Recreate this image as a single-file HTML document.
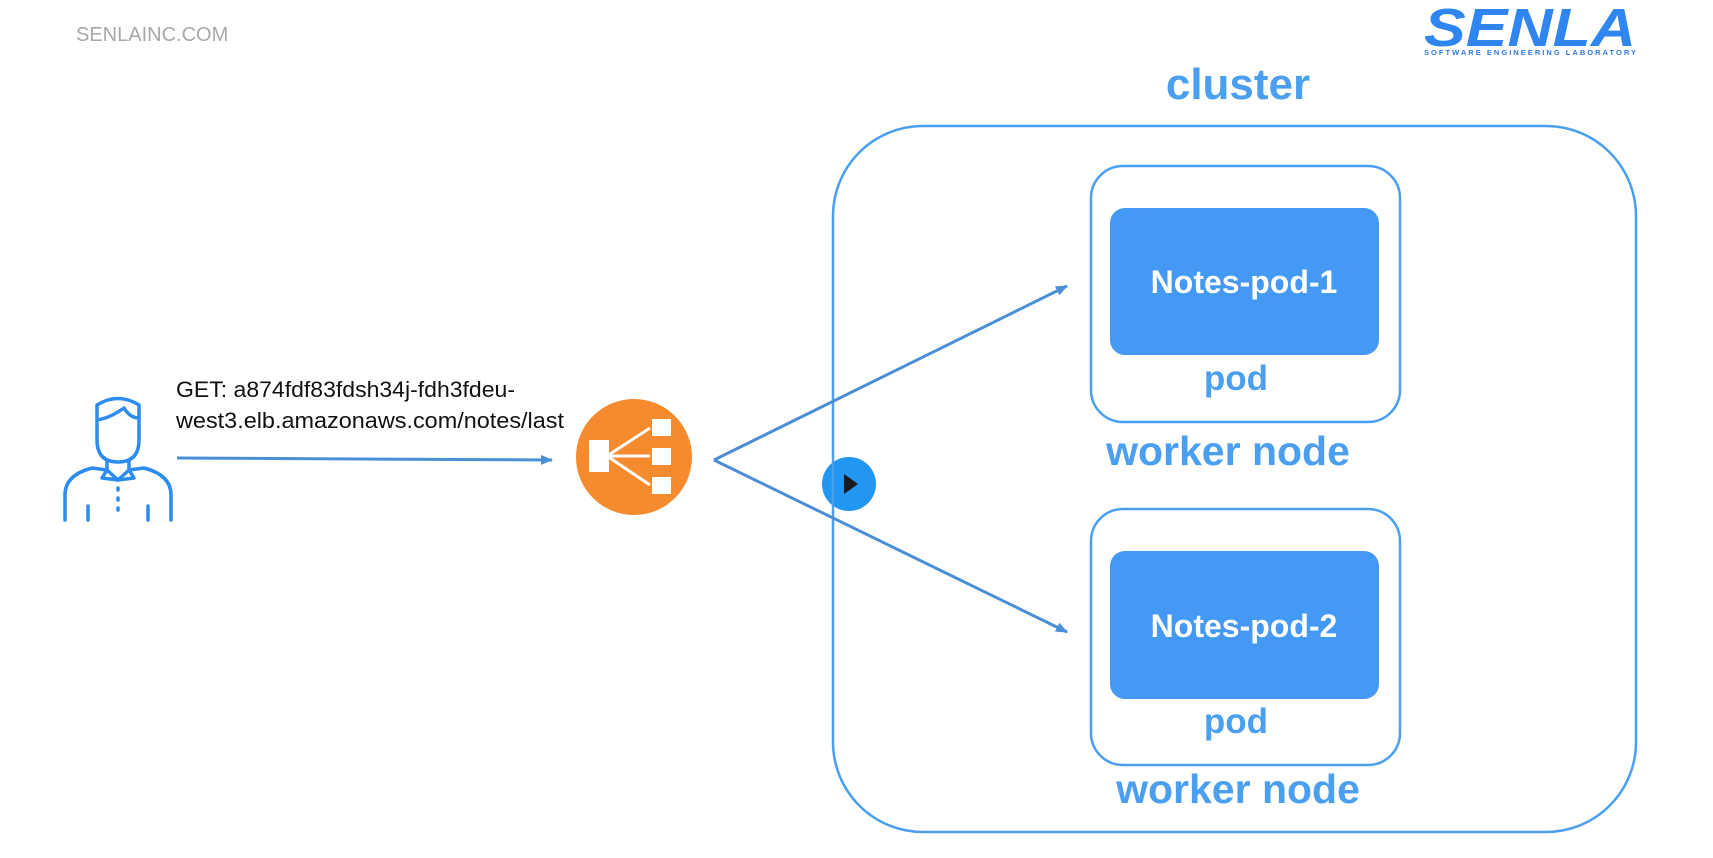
<!DOCTYPE html>
<html><head><meta charset="utf-8"><style>
html,body{margin:0;padding:0;background:#fff;}
body{width:1713px;height:858px;overflow:hidden;position:relative;font-family:"Liberation Sans",sans-serif;}
</style></head><body>
<svg width="1713" height="858" viewBox="0 0 1713 858" xmlns="http://www.w3.org/2000/svg" style="position:absolute;left:0;top:0">
<defs>
<marker id="ah" markerWidth="12" markerHeight="10" refX="11" refY="5" orient="auto" markerUnits="userSpaceOnUse">
<path d="M0,0 L12,5 L0,10 z" fill="#4a8fd6"/></marker>
</defs>
<text x="76" y="41" font-size="20" fill="#a8a8a8" font-family="Liberation Sans, sans-serif">SENLAINC.COM</text>
<text x="1424" y="46" font-size="54" font-weight="bold" fill="#2f86f0" font-family="Liberation Sans, sans-serif" textLength="212" lengthAdjust="spacingAndGlyphs" font-style="italic">SENLA</text>
<text x="1424" y="55" font-size="7.5" font-weight="bold" fill="#2f7be0" font-family="Liberation Sans, sans-serif" textLength="212" lengthAdjust="spacing">SOFTWARE ENGINEERING LABORATORY</text>

<text x="1238" y="99" font-size="44" font-weight="bold" fill="#4a9ff0" text-anchor="middle" font-family="Liberation Sans, sans-serif">cluster</text>

<!-- play button (behind cluster border) -->
<circle cx="849" cy="484" r="27" fill="#2196f3"/>
<path d="M844,474 L858,484 L844,494 Z" fill="#1a1a1a"/>

<rect x="833" y="126" width="803" height="706" rx="90" fill="none" stroke="#4a9ff0" stroke-width="2.5"/>

<rect x="1091" y="166" width="309" height="256" rx="32" fill="none" stroke="#4a9ff0" stroke-width="2.5"/>
<rect x="1110" y="208" width="269" height="147" rx="15" fill="#4499f5"/>
<text x="1244" y="293" font-size="32" font-weight="bold" fill="#fff" text-anchor="middle" font-family="Liberation Sans, sans-serif">Notes-pod-1</text>
<text x="1236" y="390" font-size="35" font-weight="bold" fill="#4a9ff0" text-anchor="middle" font-family="Liberation Sans, sans-serif">pod</text>
<text x="1228" y="465" font-size="41" font-weight="bold" fill="#4a9ff0" text-anchor="middle" font-family="Liberation Sans, sans-serif">worker node</text>

<rect x="1091" y="509" width="309" height="256" rx="32" fill="none" stroke="#4a9ff0" stroke-width="2.5"/>
<rect x="1110" y="551" width="269" height="148" rx="15" fill="#4499f5"/>
<text x="1244" y="637" font-size="32" font-weight="bold" fill="#fff" text-anchor="middle" font-family="Liberation Sans, sans-serif">Notes-pod-2</text>
<text x="1236" y="733" font-size="35" font-weight="bold" fill="#4a9ff0" text-anchor="middle" font-family="Liberation Sans, sans-serif">pod</text>
<text x="1238" y="803" font-size="41" font-weight="bold" fill="#4a9ff0" text-anchor="middle" font-family="Liberation Sans, sans-serif">worker node</text>

<line x1="177" y1="458" x2="552" y2="460" stroke="#4a8fd6" stroke-width="3" marker-end="url(#ah)"/>
<line x1="714" y1="460" x2="1067" y2="286" stroke="#4a8fd6" stroke-width="3" marker-end="url(#ah)"/>
<line x1="714" y1="460" x2="1067" y2="632" stroke="#4a8fd6" stroke-width="3" marker-end="url(#ah)"/>

<text font-size="22" fill="#111" font-family="Liberation Sans, sans-serif"><tspan x="176" y="397" textLength="339" lengthAdjust="spacingAndGlyphs">GET: a874fdf83fdsh34j-fdh3fdeu-</tspan><tspan x="176" y="428" textLength="388" lengthAdjust="spacingAndGlyphs">west3.elb.amazonaws.com/notes/last</tspan></text>

<g fill="none" stroke="#2d8cf0" stroke-width="3.5" stroke-linecap="round" stroke-linejoin="round">
<path d="M97,405 Q118,392 139,405 L139,440 Q139,462 118,462 Q97,462 97,440 Z"/>
<path d="M97,420 Q110,418 124,408 Q130,418 139,418"/>
<path d="M107,460 L107,470 M129,460 L129,470"/>
<path d="M65,520 L65,495 Q65,475 92,468 L107,470 L118,480 L129,470 L144,468 Q171,475 171,495 L171,520"/>
<path d="M107,470 L102,478 L118,480 L134,478 L129,470"/>
<path d="M118,488 L118,490 M118,498 L118,500 M118,508 L118,510"/>
<path d="M88,506 L88,520 M148,506 L148,520"/>
</g>

<circle cx="634" cy="457" r="58" fill="#f68a2e"/>
<g fill="#fff">
<rect x="589" y="440" width="20" height="32"/>
<rect x="652" y="419" width="19" height="17"/>
<rect x="652" y="448" width="19" height="17"/>
<rect x="652" y="477" width="19" height="17"/>
</g>
<g stroke="#fff" stroke-width="3">
<line x1="607" y1="456" x2="650" y2="428"/>
<line x1="607" y1="456" x2="650" y2="456"/>
<line x1="607" y1="456" x2="650" y2="485"/>
</g>
</svg>
</body></html>
